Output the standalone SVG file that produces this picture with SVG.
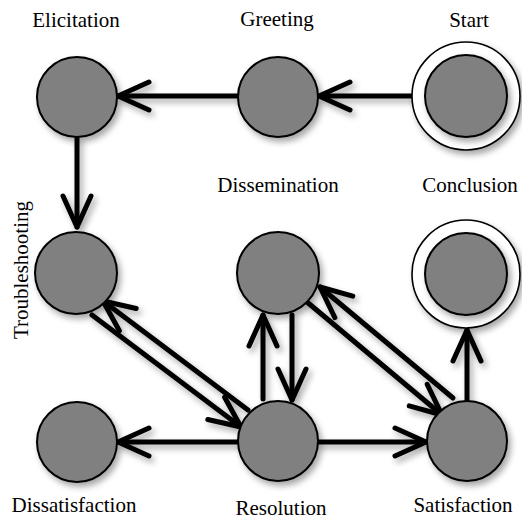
<svg xmlns="http://www.w3.org/2000/svg" width="522" height="519" viewBox="0 0 522 519">
<defs>
<filter id="sh" x="-30%" y="-30%" width="170%" height="170%">
<feDropShadow dx="3" dy="4" stdDeviation="3" flood-color="#000" flood-opacity="0.35"/>
</filter>
<marker id="ah" markerUnits="userSpaceOnUse" viewBox="-40 -20 46 40" markerWidth="46" markerHeight="40" refX="0" refY="0" orient="auto" overflow="visible">
<path d="M-31,-14 L0,0 L-31,14" fill="none" stroke="#000" stroke-width="5" stroke-linecap="round" stroke-linejoin="round"/>
</marker>
</defs>
<style>
.n{fill:#808080;stroke:#000;stroke-width:2}
.o{fill:#fff;stroke:#000;stroke-width:1.6}
.c{fill:none;stroke:#000;stroke-width:5;stroke-linecap:round;marker-end:url(#ah)}
.s{filter:url(#sh)}
text{font-family:"Liberation Serif","Times New Roman",serif;font-size:21px;fill:#000;text-anchor:middle}
</style>
<g id="connectors" class="s">
<path class="c" d="M413,96 L319,96"/>
<path class="c" d="M238,96 L118,96"/>
<path class="c" d="M77,138 L77,227"/>
<path class="c" d="M92,315 L241,427"/>
<path class="c" d="M248,410 L103,301"/>
<path class="c" d="M263,399 L263,315"/>
<path class="c" d="M292,315 L292,400"/>
<path class="c" d="M307,302 L442,415"/>
<path class="c" d="M453,398 L320,287"/>
<path class="c" d="M238,442 L118,442"/>
<path class="c" d="M318,442 L426,442"/>
<path class="c" d="M467,400 L467,330"/>
</g>
<g id="start">
<circle class="o s" cx="466" cy="96" r="54"/>
<circle class="n s" cx="466" cy="96" r="41"/>
<text x="469" y="27">Start</text>
</g>
<g id="greeting">
<circle class="n s" cx="278" cy="97" r="40"/>
<text x="277" y="26">Greeting</text>
</g>
<g id="elicitation">
<circle class="n s" cx="77" cy="97" r="40"/>
<text x="76" y="27">Elicitation</text>
</g>
<g id="troubleshooting">
<circle class="n s" cx="76" cy="273" r="41"/>
<text transform="translate(28,270) rotate(-90)">Troubleshooting</text>
</g>
<g id="dissemination">
<circle class="n s" cx="278" cy="273" r="41"/>
<text x="278" y="192">Dissemination</text>
</g>
<g id="conclusion">
<circle class="o s" cx="466" cy="274" r="54"/>
<circle class="n s" cx="466" cy="274" r="41"/>
<text x="470" y="192">Conclusion</text>
</g>
<g id="dissatisfaction">
<circle class="n s" cx="77" cy="442" r="40"/>
<text x="74" y="512">Dissatisfaction</text>
</g>
<g id="resolution">
<circle class="n s" cx="278" cy="441" r="40"/>
<text x="281" y="515">Resolution</text>
</g>
<g id="satisfaction">
<circle class="n s" cx="467" cy="441" r="40"/>
<text x="463" y="512">Satisfaction</text>
</g>
</svg>
